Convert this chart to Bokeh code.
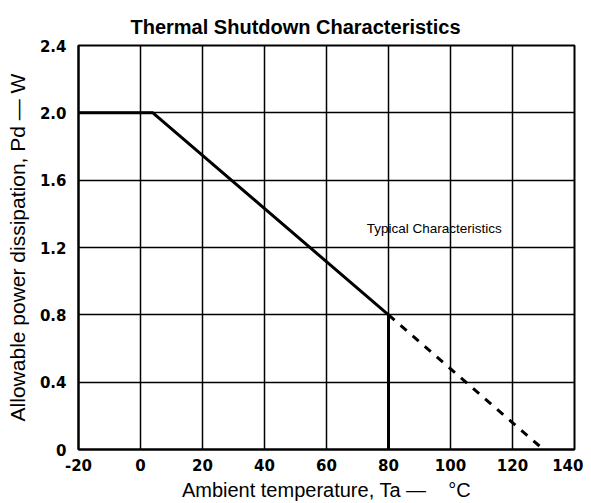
from bokeh.plotting import figure
from bokeh.models import Range1d, FixedTicker, Label
from bokeh.embed import file_html
from bokeh.resources import INLINE

# Data
solid_x = [-20, 4, 80]
solid_y = [2.0, 2.0, 0.8]
vert_x = [80, 80]
vert_y = [0.0, 0.8]
dash_x = [80, 130]
dash_y = [0.8, 0.0]
x_ticks = [-20, 0, 20, 40, 60, 80, 100, 120, 140]
x_labels = ["-20", "0", "20", "40", "60", "80", "100", "120", "140"]
y_ticks = [0, 0.4, 0.8, 1.2, 1.6, 2.0, 2.4]
y_labels = ["0", "0.4", "0.8", "1.2", "1.6", "2.0", "2.4"]

p = figure(width=583, height=503, output_backend="svg", toolbar_location=None,
           x_range=Range1d(-20, 140), y_range=Range1d(0, 2.4),
           min_border_left=78, min_border_right=9, min_border_top=45, min_border_bottom=54)

p.title.text = "Thermal Shutdown Characteristics"
p.title.align = "left"
p.title.text_font = "Liberation Sans"
p.title.text_font_size = "20px"
p.title.text_font_style = "bold"
p.title.text_color = "black"
p.title.offset = 52
p.title.standoff = 15

p.outline_line_color = "black"
p.outline_line_width = 2

for ax in (p.xaxis, p.yaxis):
    ax.axis_line_color = "black"
    ax.axis_line_width = 2
    ax.major_tick_line_color = None
    ax.minor_tick_line_color = None
    ax.major_label_text_font = "DejaVu Sans"
    ax.major_label_text_font_style = "bold"
    ax.major_label_text_font_size = "15px"
    ax.major_label_text_color = "black"
    ax.axis_label_text_font = "Liberation Sans"
    ax.axis_label_text_font_style = "normal"
    ax.axis_label_text_color = "black"

p.xaxis.axis_label_text_font_size = "20px"
p.yaxis.axis_label_text_font_size = "21px"

p.xaxis.ticker = FixedTicker(ticks=x_ticks)
p.yaxis.ticker = FixedTicker(ticks=y_ticks)
p.xaxis.major_label_overrides = {t: l for t, l in zip(x_ticks, x_labels)}
p.yaxis.major_label_overrides = {t: l for t, l in zip(y_ticks, y_labels)}
p.xaxis.axis_label = "Ambient temperature, Ta \u2014\u00a0\u00a0\u00a0\u00a0\u00b0C"
p.yaxis.axis_label = "Allowable power dissipation, Pd \u2014 W"
p.xaxis.major_label_standoff = 3
p.yaxis.major_label_standoff = 6
p.xaxis.axis_label_standoff = 5
p.yaxis.axis_label_standoff = 8

p.xgrid.ticker = FixedTicker(ticks=x_ticks)
p.ygrid.ticker = FixedTicker(ticks=y_ticks)
for g in (p.xgrid, p.ygrid):
    g.grid_line_color = "black"
    g.grid_line_width = 1.5
    g.grid_line_alpha = 1.0

p.line(solid_x, solid_y, line_color="black", line_width=3)
p.line(vert_x, vert_y, line_color="black", line_width=3)
p.line(dash_x, dash_y, line_color="black", line_width=3, line_dash="8 8")

p.add_layout(Label(x=73, y=1.27, text="Typical Characteristics", text_font="Liberation Sans",
                   text_font_size="13.5px", text_color="black"))

open("out.html", "w").write(file_html(p, INLINE))
